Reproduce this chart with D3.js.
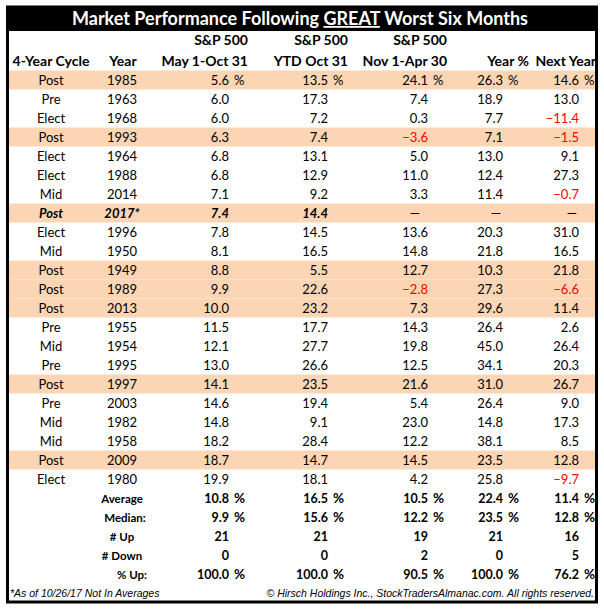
<!DOCTYPE html>
<html><head><meta charset="utf-8">
<script src="https://cdn.jsdelivr.net/npm/d3@7"></script>
<style>body{margin:0;background:#fff}svg{display:block}</style>
</head><body>
<script>
const cycles = ["Post","Pre","Elect","Post","Elect","Elect","Mid","Post","Elect","Mid","Post","Post","Post","Pre","Mid","Pre","Post","Pre","Mid","Mid","Post","Elect"];
const years = ["1985","1963","1968","1993","1964","1988","2014","2017*","1996","1950","1949","1989","2013","1955","1954","1995","1997","2003","1982","1958","2009","1980"];
const mayOct = [5.6,6.0,6.0,6.3,6.8,6.8,7.1,7.4,7.8,8.1,8.8,9.9,10.0,11.5,12.1,13.0,14.1,14.6,14.8,18.2,18.7,19.9];
const ytdOct = [13.5,17.3,7.2,7.4,13.1,12.9,9.2,14.4,14.5,16.5,5.5,22.6,23.2,17.7,27.7,26.6,23.5,19.4,9.1,28.4,14.7,18.1];
const novApr = [24.1,7.4,0.3,-3.6,5.0,11.0,3.3,null,13.6,14.8,12.7,-2.8,7.3,14.3,19.8,12.5,21.6,5.4,23.0,12.2,14.5,4.2];
const yearPct = [26.3,18.9,7.7,7.1,13.0,12.4,11.4,null,20.3,21.8,10.3,27.3,29.6,26.4,45.0,34.1,31.0,26.4,14.8,38.1,23.5,25.8];
const nextYear = [14.6,13.0,-11.4,-1.5,9.1,27.3,-0.7,null,31.0,16.5,21.8,-6.6,11.4,2.6,26.4,20.3,26.7,9.0,17.3,8.5,12.8,-9.7];
const statLabels = ["Average","Median:","# Up","# Down","% Up:"];
const statAverage = [10.8,16.5,10.5,22.4,11.4];
const statMedian = [9.9,15.6,12.2,23.5,12.8];
const statUp = [21,21,19,21,16];
const statDown = [0,0,2,0,5];
const statPctUp = [100.0,100.0,90.5,100.0,76.2];
const headerTop = ["","","S&P 500","S&P 500","S&P 500","",""];
const headerBottom = ["4-Year Cycle","Year","May 1-Oct 31","YTD Oct 31","Nov 1-Apr 30","Year %","Next Year"];
const title = ["Market Performance Following ","GREAT"," Worst Six Months"];
const footLeft = "*As of 10/26/17 Not In Averages";
const footRight = "\u00a9 Hirsch Holdings Inc., StockTradersAlmanac.com. All rights reserved.";

const W=604,H=611;
const FONT="Lato, 'Open Sans', sans-serif";
const svg=d3.select("body").append("svg").attr("width",W).attr("height",H);
const left=7, right=597;

// rows
const allRows = d3.range(years.length + statLabels.length + 1);
const y = d3.scaleBand().domain(allRows).range([70.5, 70.5 + 19*allRows.length]).padding(0);

// column anchors
const colCenter = [51,122,200,318,415,507,568];
const colRight = [null,null,229,328,428,503,579];
const valueCols = [mayOct, ytdOct, novApr, yearPct, nextYear];
const dashX = [null,null,null,null,415,496,572];
const headAnchor = ["middle","middle","end","end","end","end","end"];
const headX = [51,123,248,348,447,529,596];

// title band
svg.append("rect").attr("x",6).attr("y",6).attr("width",592).attr("height",25).attr("fill","#000");
const t = svg.append("text").attr("x",300).attr("y",25).attr("text-anchor","middle")
  .attr("fill","#fff").attr("font-family",FONT).attr("font-weight","bold").attr("font-size",18);
title.forEach((s,i)=>{t.append("tspan").text(s).attr("text-decoration", i===1?"underline":null);});

// headers
svg.selectAll("text.h1").data(headerTop).enter().append("text")
  .attr("x",(d,i)=>headX[i]).attr("y",45).attr("text-anchor",(d,i)=>headAnchor[i])
  .attr("font-family",FONT).attr("font-weight","bold").attr("font-size",14).text(d=>d);
svg.selectAll("text.h2").data(headerBottom).enter().append("text")
  .attr("x",(d,i)=>headX[i]).attr("y",66).attr("text-anchor",(d,i)=>headAnchor[i])
  .attr("font-family",FONT).attr("font-weight","bold").attr("font-size",14).text(d=>d);

// bands
svg.selectAll("rect.band").data(years.map((d,i)=>i).filter(i=>cycles[i]==="Post")).enter().append("rect")
  .attr("x",left+1).attr("width",right-left-2).attr("y",i=>y(i)).attr("height",y.bandwidth()).attr("fill","#FCD5B4");

const fmt=d3.format(".1f");
years.forEach((yr,i)=>{
  const cy=y(i)+y.bandwidth()/2+4.5;
  const it = yr.endsWith("*");
  const g=svg.append("g").attr("font-family",FONT).attr("font-size",13)
    .attr("font-weight",it?"bold":null).attr("font-style",it?"italic":null);
  g.append("text").attr("x",colCenter[0]).attr("y",cy).attr("text-anchor","middle").text(cycles[i]);
  g.append("text").attr("x",colCenter[1]).attr("y",cy).attr("text-anchor","middle").text(yr);
  valueCols.forEach((arr,k)=>{
    const c=k+2, v=arr[i];
    if(v===null){
      g.append("text").attr("x",dashX[c]).attr("y",cy).attr("text-anchor","middle").attr("font-weight","normal").attr("font-style","normal").text("\u2014");
      return;
    }
    g.append("text").attr("x",colRight[c]).attr("y",cy).attr("text-anchor","end")
      .attr("fill",v<0?"#FF0000":"#000").text(v<0?"\u2212"+fmt(-v):fmt(v));
    if(i===0) g.append("text").attr("x",colRight[c]+5).attr("y",cy).text("%");
  });
});

// stats
const statArrs=[statAverage,statMedian,statUp,statDown,statPctUp];
const labelX=[122,125,122,122,132];
statLabels.forEach((lab,j)=>{
  const i=years.length+j;
  const cy=y(i)+y.bandwidth()/2+4.5;
  const g=svg.append("g").attr("font-family",FONT).attr("font-size",12.5).attr("font-weight","bold");
  g.append("text").attr("x",labelX[j]).attr("y",cy).attr("text-anchor","middle").attr("font-size",11.5).text(lab);
  statArrs[j].forEach((v,k)=>{
    const c=k+2;
    const isInt = (j===2||j===3);
    g.append("text").attr("x",colRight[c]).attr("y",cy).attr("text-anchor","end").text(isInt?String(v):fmt(v));
    if(!isInt) g.append("text").attr("x",colRight[c]+5).attr("y",cy).attr("font-size",13.5).text("%");
  });
});

// footnotes
const fy=y(years.length+statLabels.length)+y.bandwidth()/2+4;
svg.append("text").attr("x",10).attr("y",fy).attr("font-family","'Liberation Sans', Arial, sans-serif")
  .attr("font-style","italic").attr("font-size",10.5).text(footLeft);
svg.append("text").attr("x",594).attr("y",fy).attr("text-anchor","end").attr("font-family","'Liberation Sans', Arial, sans-serif")
  .attr("font-style","italic").attr("font-size",10.5).text(footRight);

// border
svg.append("rect").attr("x",7.5).attr("y",7).attr("width",589).attr("height",595)
  .attr("fill","none").attr("stroke","#000").attr("stroke-width",3);
</script>
</body></html>
